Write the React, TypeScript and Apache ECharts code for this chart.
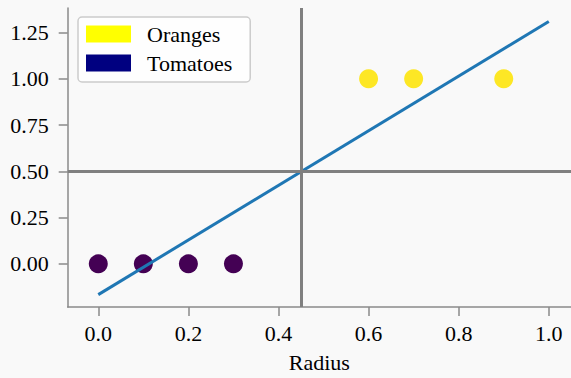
import React, { useEffect, useRef } from "react";
import * as echarts from "echarts";

// Sample points: radius vs. class (1 = orange, 0 = tomato)
const orangesX = [0.6, 0.7, 0.9];
const orangesY = [1, 1, 1];
const tomatoesX = [0.0, 0.1, 0.2, 0.3];
const tomatoesY = [0, 0, 0, 0];

// Fitted decision line, endpoints
const fitX = [0.0, 1.0];
const fitY = [-0.166, 1.309];

// Threshold guides
const thresholdX = 0.45;
const thresholdY = 0.5;

// Tick positions
const xTicks = [0, 0.2, 0.4, 0.6, 0.8, 1.0];
const yTicks = [0, 0.25, 0.5, 0.75, 1.0, 1.25];

const FONT = "Liberation Serif";
const SPINE = "#8a8a8a";

export default function App() {
  const ref = useRef<HTMLDivElement>(null);

  useEffect(() => {
    if (!ref.current) return;
    const chart = echarts.init(ref.current, undefined, { renderer: "svg" });

    const axisCommon = {
      type: "value" as const,
      splitLine: { show: false },
      axisLine: { show: true, onZero: false, lineStyle: { color: SPINE, width: 1.5 } },
      axisTick: { show: true, inside: false, length: 9, lineStyle: { color: SPINE, width: 1.5 } },
    };

    chart.setOption({
      animation: false,
      backgroundColor: "#f9f9f9",
      grid: { left: 67.7, top: 8, right: 0, bottom: 66.7, containLabel: false },
      xAxis: {
        ...axisCommon,
        min: -0.0679,
        max: 1.0493,
        axisTick: { ...axisCommon.axisTick, customValues: xTicks },
        axisLabel: {
          customValues: xTicks,
          formatter: (v: number) => v.toFixed(1),
          fontFamily: FONT,
          fontSize: 22,
          color: "#000",
          margin: 15,
        },
        name: "Radius",
        nameLocation: "middle",
        nameGap: 44,
        nameTextStyle: { fontFamily: FONT, fontSize: 22, color: "#000" },
      },
      yAxis: {
        ...axisCommon,
        min: -0.233,
        max: 1.382,
        axisTick: { ...axisCommon.axisTick, customValues: yTicks },
        axisLabel: {
          customValues: yTicks,
          formatter: (v: number) => v.toFixed(2),
          fontFamily: FONT,
          fontSize: 22,
          color: "#000",
          margin: 19,
        },
      },
      legend: {
        orient: "vertical",
        left: 78,
        top: 17,
        padding: [6, 18, 8, 8],
        itemWidth: 45,
        itemHeight: 17,
        itemGap: 7,
        backgroundColor: "rgba(255,255,255,0.85)",
        borderColor: "#cccccc",
        borderWidth: 1.5,
        borderRadius: 4,
        textStyle: { fontFamily: FONT, fontSize: 22, color: "#000", padding: [0, 0, 0, 11] },
        data: [
          { name: "Oranges", icon: "rect", itemStyle: { color: "#ffff00" } },
          { name: "Tomatoes", icon: "rect", itemStyle: { color: "#000080" } },
        ],
      },
      series: [
        {
          name: "Oranges",
          type: "scatter",
          symbolSize: 19,
          itemStyle: { color: "#fde725", opacity: 1 },
          data: orangesX.map((x, i) => [x, orangesY[i]]),
          z: 2,
        },
        {
          name: "Tomatoes",
          type: "scatter",
          symbolSize: 19,
          itemStyle: { color: "#440154", opacity: 1 },
          data: tomatoesX.map((x, i) => [x, tomatoesY[i]]),
          z: 2,
        },
        {
          name: "fit",
          type: "line",
          showSymbol: false,
          symbol: "none",
          lineStyle: { color: "#1f77b4", width: 3 },
          data: fitX.map((x, i) => [x, fitY[i]]),
          z: 3,
        },
        {
          name: "guides",
          type: "line",
          data: [],
          z: 4,
          markLine: {
            silent: true,
            symbol: "none",
            label: { show: false },
            lineStyle: { color: "#808080", width: 3, type: "solid" },
            data: [{ xAxis: thresholdX }, { yAxis: thresholdY }],
          },
        },
      ],
    });

    return () => chart.dispose();
  }, []);

  return (
    <div
      ref={ref}
      style={{ position: "absolute", left: 0, top: 0, width: 571, height: 378 }}
    />
  );
}
